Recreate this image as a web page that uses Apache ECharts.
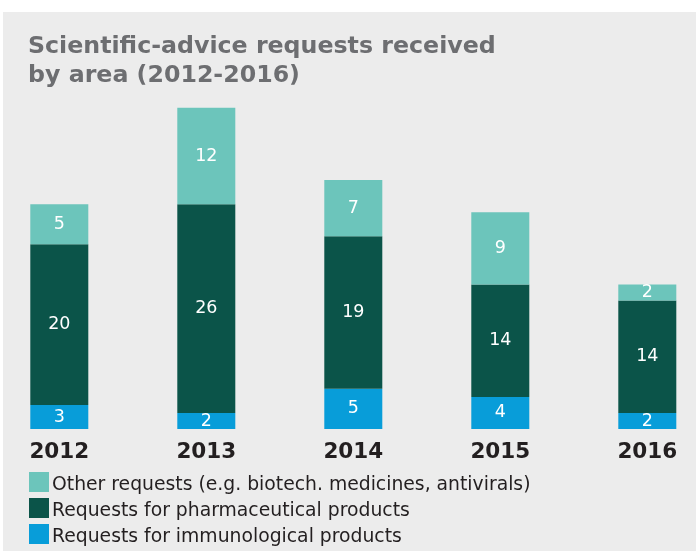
<!DOCTYPE html>
<html>
<head>
<meta charset="utf-8">
<script src="https://cdn.jsdelivr.net/npm/echarts@6/dist/echarts.min.js"></script>
<style>
html,body{margin:0;padding:0;background:#ffffff;}
#wrap{position:absolute;left:3px;top:12px;width:693px;height:539px;background:#ececec;}
#chart{position:absolute;left:0;top:0;width:696px;height:551px;}
</style>
</head>
<body>
<div id="wrap"></div>
<div id="chart"></div>
<script>
const years = ['2012', '2013', '2014', '2015', '2016'];
const immunological = [3, 2, 5, 4, 2];
const pharmaceutical = [20, 26, 19, 14, 14];
const other = [5, 12, 7, 9, 2];
const seriesNames = [
  'Other requests (e.g. biotech. medicines, antivirals)',
  'Requests for pharmaceutical products',
  'Requests for immunological products'
];

const chart = echarts.init(document.getElementById('chart'), null, {renderer: 'canvas'});
const labelStyle = {show: true, position: 'inside', color: '#ffffff', fontSize: 17.5, fontFamily: 'DejaVu Sans'};
function bar(name, data, color) {
  return {
    name: name, type: 'bar', stack: 'total', data: data, barWidth: 58,
    itemStyle: {color: color}, label: labelStyle, emphasis: {disabled: true}
  };
}
chart.setOption({
  backgroundColor: 'transparent',
  animation: false,
  title: {
    text: 'Scientific-advice requests received\nby area (2012-2016)',
    left: 23, top: 28,
    textStyle: {fontFamily: 'DejaVu Sans', fontWeight: 'bold', fontSize: 23.7, color: '#6d6e71', lineHeight: 28.5}
  },
  legend: {
    orient: 'vertical', left: 29, top: 472, padding: 0,
    width: 660, height: 79,
    itemWidth: 20, itemHeight: 20, itemGap: 3,
    icon: 'rect',
    data: seriesNames,
    formatter: '{t|{name}}',
    textStyle: {
      fontFamily: 'DejaVu Sans', fontSize: 18.8, color: '#231f20',
      rich: {t: {fontFamily: 'DejaVu Sans', fontSize: 18.8, color: '#231f20', padding: [7, 0, 0, -2]}}
    },
    selectedMode: false
  },
  grid: {left: -14.2, width: 735, top: 27.5, bottom: 122, containLabel: false, outerBoundsMode: 'none'},
  xAxis: {
    type: 'category', data: years,
    axisLine: {show: false}, axisTick: {show: false},
    axisLabel: {margin: 12, fontFamily: 'DejaVu Sans', fontWeight: 'bold', fontSize: 21.5, color: '#231f20'}
  },
  yAxis: {type: 'value', min: 0, max: 50, show: false, splitLine: {show: false}},
  series: [
    bar(seriesNames[2], immunological, '#089dd9'),
    bar(seriesNames[1], pharmaceutical, '#0b5449'),
    bar(seriesNames[0], other, '#6cc5bb')
  ]
});
</script>
</body>
</html>
